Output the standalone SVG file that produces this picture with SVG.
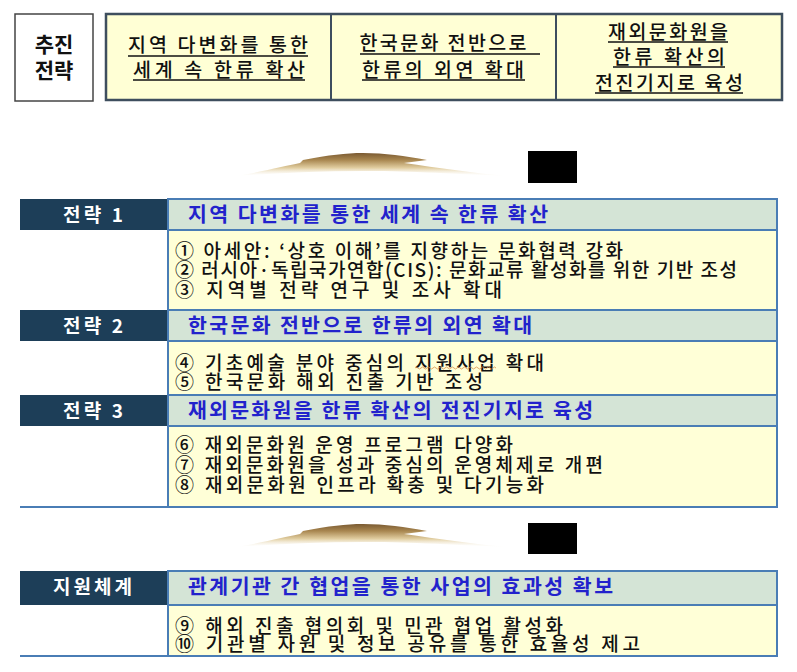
<svg xmlns="http://www.w3.org/2000/svg" width="797" height="672" viewBox="0 0 797 672">
<style>
  text { font-family: "Noto Sans CJK KR", "Noto Sans CJK SC", "Liberation Sans", sans-serif; }
  .top { font-size: 19.5px; fill: #111; font-weight: 500; }
  .ul { stroke: #111; stroke-width: 1.3; }
  .navy { fill: #1D3E58; }
  .nlab { font-size: 19px; font-weight: bold; fill: #fff; }
  .hdr { fill: #D4E4D6; stroke: #4A7DB5; stroke-width: 2; }
  .body { fill: #FFFFD7; stroke: #4A7DB5; stroke-width: 2; }
  .htxt { font-size: 20.5px; font-weight: bold; fill: #2222CC; }
  .item { font-size: 19px; font-weight: 500; fill: #111; }
  .sep { stroke: #4A7DB5; stroke-width: 2; }
</style>
<defs>
  <linearGradient id="swg" x1="0" y1="153" x2="0" y2="176" gradientUnits="userSpaceOnUse">
    <stop offset="0" stop-color="#7A5A32"/>
    <stop offset="0.3" stop-color="#A8864F"/>
    <stop offset="0.65" stop-color="#E2CFA2"/>
    <stop offset="1" stop-color="#FFFFFF" stop-opacity="0.2"/>
  </linearGradient>
  <path id="swoosh" d="M237,176 C265,171 285,166 300,163 L303,160 C330,155 345,153 363,153 C385,153 405,156 427,160 L404,163 C440,168 480,174 517,177 C450,173 400,171 363,171 C320,171 280,173 237,176 Z" fill="url(#swg)"/>
</defs>
<rect width="797" height="672" fill="#fff"/>

<g id="top-label">
  <rect x="15" y="14" width="78" height="87" fill="#fff" stroke="#444" stroke-width="1.5"/>
  <text x="54" y="52" text-anchor="middle" font-size="21" font-weight="bold" fill="#111">추진</text>
  <text x="54" y="78" text-anchor="middle" font-size="21" font-weight="bold" fill="#111">전략</text>
</g>

<g id="top-strategies">
  <rect x="106" y="14" width="676" height="86" fill="#FFFFD5" stroke="#3E4E5E" stroke-width="2.5"/>
  <line x1="331" y1="14" x2="331" y2="100" stroke="#3E4E5E" stroke-width="2"/>
  <line x1="556" y1="14" x2="556" y2="100" stroke="#3E4E5E" stroke-width="2"/>
  <text class="top" x="218" y="52" text-anchor="middle" textLength="180" lengthAdjust="spacing">지역 다변화를 통한</text>
  <line class="ul" x1="128" y1="56" x2="308" y2="56"/>
  <text class="top" x="219" y="77" text-anchor="middle" textLength="172" lengthAdjust="spacing">세계 속 한류 확산</text>
  <line class="ul" x1="133" y1="80" x2="305" y2="80"/>
  <text class="top" x="443" y="50" text-anchor="middle" textLength="167" lengthAdjust="spacing">한국문화 전반으로</text>
  <line class="ul" x1="360" y1="54" x2="540" y2="54"/>
  <text class="top" x="443" y="77" text-anchor="middle" textLength="162" lengthAdjust="spacing">한류의 외연 확대</text>
  <line class="ul" x1="362" y1="80" x2="525" y2="80"/>
  <text class="top" x="668" y="39" text-anchor="middle" textLength="120" lengthAdjust="spacing">재외문화원을</text>
  <line class="ul" x1="608" y1="42" x2="728" y2="42"/>
  <text class="top" x="669" y="64" text-anchor="middle" textLength="112" lengthAdjust="spacing">한류 확산의</text>
  <line class="ul" x1="613" y1="67" x2="725" y2="67"/>
  <text class="top" x="669" y="90" text-anchor="middle" textLength="148" lengthAdjust="spacing">전진기지로 육성</text>
  <line class="ul" x1="595" y1="93" x2="743" y2="93"/>
</g>

<g id="connectors">
  <use href="#swoosh"/>
  <rect x="528" y="151" width="49" height="32" fill="#000"/>
  <use href="#swoosh" transform="translate(0,371)"/>
  <rect x="528" y="523" width="49" height="31" fill="#000"/>
</g>

<g id="strategy-1">
  <rect class="navy" x="20" y="199" width="148" height="31"/>
  <text class="nlab" x="63" y="222" textLength="60" lengthAdjust="spacing">전략 1</text>
  <rect class="hdr" x="168" y="199" width="609" height="31"/>
  <text class="htxt" x="188" y="222" textLength="360" lengthAdjust="spacing">지역 다변화를 통한 세계 속 한류 확산</text>
  <rect class="body" x="168" y="230" width="609" height="80"/>
  <text class="item" x="175" y="258" textLength="448" lengthAdjust="spacing">① 아세안: ‘상호 이해’를 지향하는 문화협력 강화</text>
  <text class="item" x="175" y="277" textLength="562" lengthAdjust="spacing">② 러시아·독립국가연합(CIS): 문화교류 활성화를 위한 기반 조성</text>
  <text class="item" x="175" y="297" textLength="327" lengthAdjust="spacing">③ 지역별 전략 연구 및 조사 확대</text>
</g>

<g id="strategy-2">
  <rect class="navy" x="20" y="310" width="148" height="31"/>
  <text class="nlab" x="63" y="333" textLength="60" lengthAdjust="spacing">전략 2</text>
  <rect class="hdr" x="168" y="310" width="609" height="31"/>
  <text class="htxt" x="188" y="333" textLength="344" lengthAdjust="spacing">한국문화 전반으로 한류의 외연 확대</text>
  <rect class="body" x="168" y="341" width="609" height="54"/>
  <text class="item" x="175" y="370" textLength="369" lengthAdjust="spacing">④ 기초예술 분야 중심의 지원사업 확대</text>
  <path d="M415,368 q1.5,-2 3,0 t3,0 t3,0 t3,0 t3,0 t3,0 t3,0 t3,0 t3,0 t3,0 t3,0 t3,0 t3,0 t3,0 t3,0 t3,0 t3,0 t3,0 t3,0 t3,0 t3,0 t3,0 t3,0 t3,0 t3,0 t3,0 t3,0" fill="none" stroke="#D9914A" stroke-width="1" opacity="0.8"/>
  <text class="item" x="175" y="389" textLength="308" lengthAdjust="spacing">⑤ 한국문화 해외 진출 기반 조성</text>
</g>

<g id="strategy-3">
  <rect class="navy" x="20" y="395" width="148" height="31"/>
  <text class="nlab" x="63" y="418" textLength="60" lengthAdjust="spacing">전략 3</text>
  <rect class="hdr" x="168" y="395" width="609" height="31"/>
  <text class="htxt" x="188" y="418" textLength="405" lengthAdjust="spacing">재외문화원을 한류 확산의 전진기지로 육성</text>
  <rect class="body" x="168" y="426" width="609" height="81"/>
  <text class="item" x="175" y="452" textLength="338" lengthAdjust="spacing">⑥ 재외문화원 운영 프로그램 다양화</text>
  <text class="item" x="175" y="472" textLength="428" lengthAdjust="spacing">⑦ 재외문화원을 성과 중심의 운영체제로 개편</text>
  <text class="item" x="175" y="492" textLength="369" lengthAdjust="spacing">⑧ 재외문화원 인프라 확충 및 다기능화</text>
  <line class="sep" x1="20" y1="507" x2="777" y2="507"/>
</g>

<g id="support-system">
  <rect class="navy" x="20" y="571" width="148" height="34"/>
  <text class="nlab" x="53" y="594" textLength="79" lengthAdjust="spacing">지원체계</text>
  <rect class="hdr" x="168" y="571" width="609" height="34"/>
  <text class="htxt" x="188" y="594" textLength="425" lengthAdjust="spacing">관계기관 간 협업을 통한 사업의 효과성 확보</text>
  <rect class="body" x="168" y="605" width="609" height="51"/>
  <text class="item" x="175" y="633" textLength="388" lengthAdjust="spacing">⑨ 해외 진출 협의회 및 민관 협업 활성화</text>
  <text class="item" x="175" y="651" textLength="465" lengthAdjust="spacing">⑩ 기관별 자원 및 정보 공유를 통한 효율성 제고</text>
  <line class="sep" x1="20" y1="656" x2="777" y2="656"/>
</g>
</svg>
